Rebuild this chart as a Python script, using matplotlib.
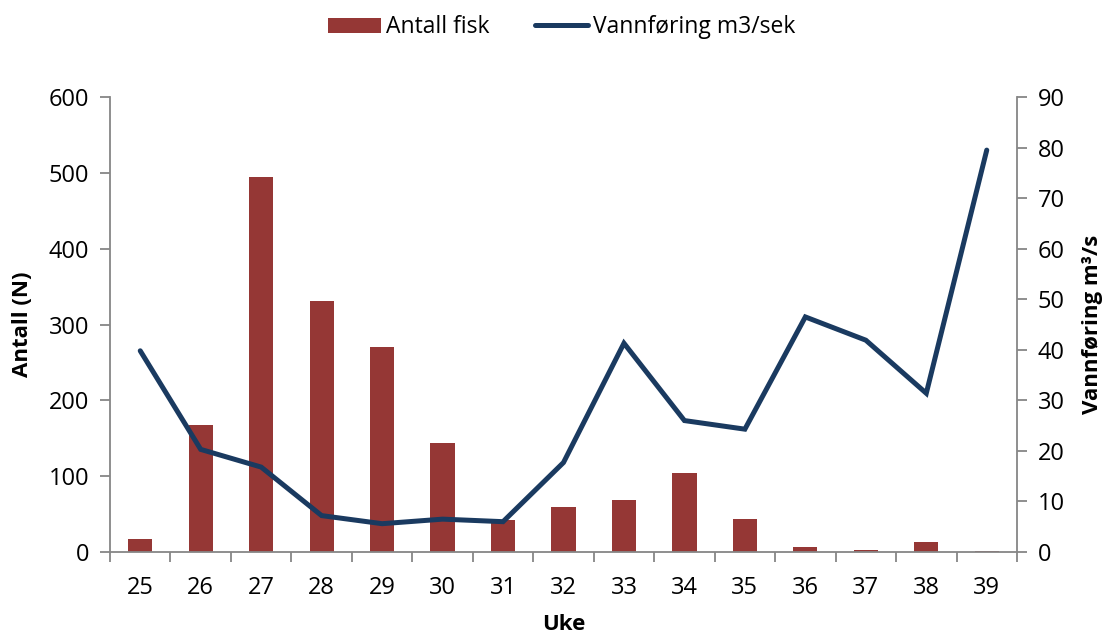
import matplotlib
matplotlib.use("Agg")
import matplotlib.pyplot as plt
import numpy as np

plt.rcParams['font.family'] = ['Open Sans', 'DejaVu Sans']

uker = [25, 26, 27, 28, 29, 30, 31, 32, 33, 34, 35, 36, 37, 38, 39]
antall_fisk = [17, 167, 494, 331, 270, 144, 42, 60, 68, 104, 43, 7, 3, 13, 1.5]
vannforing = [39.8, 20.3, 16.8, 7.2, 5.6, 6.5, 6.0, 17.7, 41.3, 26.0, 24.3, 46.5, 41.9, 31.4, 79.5]

bar_color = '#953735'
line_color = '#1A3A60'
axis_color = '#868686'

fig = plt.figure(figsize=(11.1, 6.35), dpi=100)
ax = fig.add_axes([0.0991, 0.1307, 0.8171, 0.7165])
ax2 = ax.twinx()

x = np.arange(len(uker))
bars = ax.bar(x, antall_fisk, width=0.4, color=bar_color, zorder=2)
line, = ax2.plot(x, vannforing, color=line_color, linewidth=3.6,
                 solid_capstyle='round', solid_joinstyle='miter', zorder=3)

ax.set_xlim(-0.5, len(uker) - 0.5)
ax.set_ylim(0, 600)
ax2.set_ylim(0, 90)
ax.set_yticks(np.arange(0, 601, 100))
ax2.set_yticks(np.arange(0, 91, 10))

# category labels in the middle, tick marks on the boundaries
ax.set_xticks(x)
ax.set_xticklabels([str(u) for u in uker])
ax.set_xticks(np.arange(-0.5, len(uker), 1), minor=True)

for a in (ax, ax2):
    for s in a.spines.values():
        s.set_visible(False)
    a.tick_params(labelsize=17, colors='black')
ax.spines['left'].set_visible(True)
ax.spines['bottom'].set_visible(True)
ax2.spines['right'].set_visible(True)
for s in (ax.spines['left'], ax.spines['bottom'], ax2.spines['right']):
    s.set_color(axis_color)
    s.set_linewidth(1.3)

ax.tick_params(axis='x', which='major', length=0, pad=17)
ax.tick_params(axis='x', which='minor', length=7, width=1.3, color=axis_color, direction='out')
ax.tick_params(axis='y', length=7, width=1.3, color=axis_color, pad=8)
ax2.tick_params(axis='y', length=7, width=1.3, color=axis_color, pad=8)

ax.set_ylabel('Antall (N)', fontsize=16, fontweight='bold', labelpad=11)
ax2.set_ylabel('Vannføring m³/s', fontsize=16, fontweight='bold', labelpad=12)
ax.set_xlabel('Uke', fontsize=16, fontweight='bold', labelpad=10)

fig.legend([bars, line], ['Antall fisk', 'Vannføring m3/sek'], loc='center',
           bbox_to_anchor=(0.506, 0.957), ncol=2, frameon=False, fontsize=16.5,
           handlelength=2.3, handleheight=0.65, columnspacing=2.0, handletextpad=0.22)

fig.savefig('out.png', dpi=100)
